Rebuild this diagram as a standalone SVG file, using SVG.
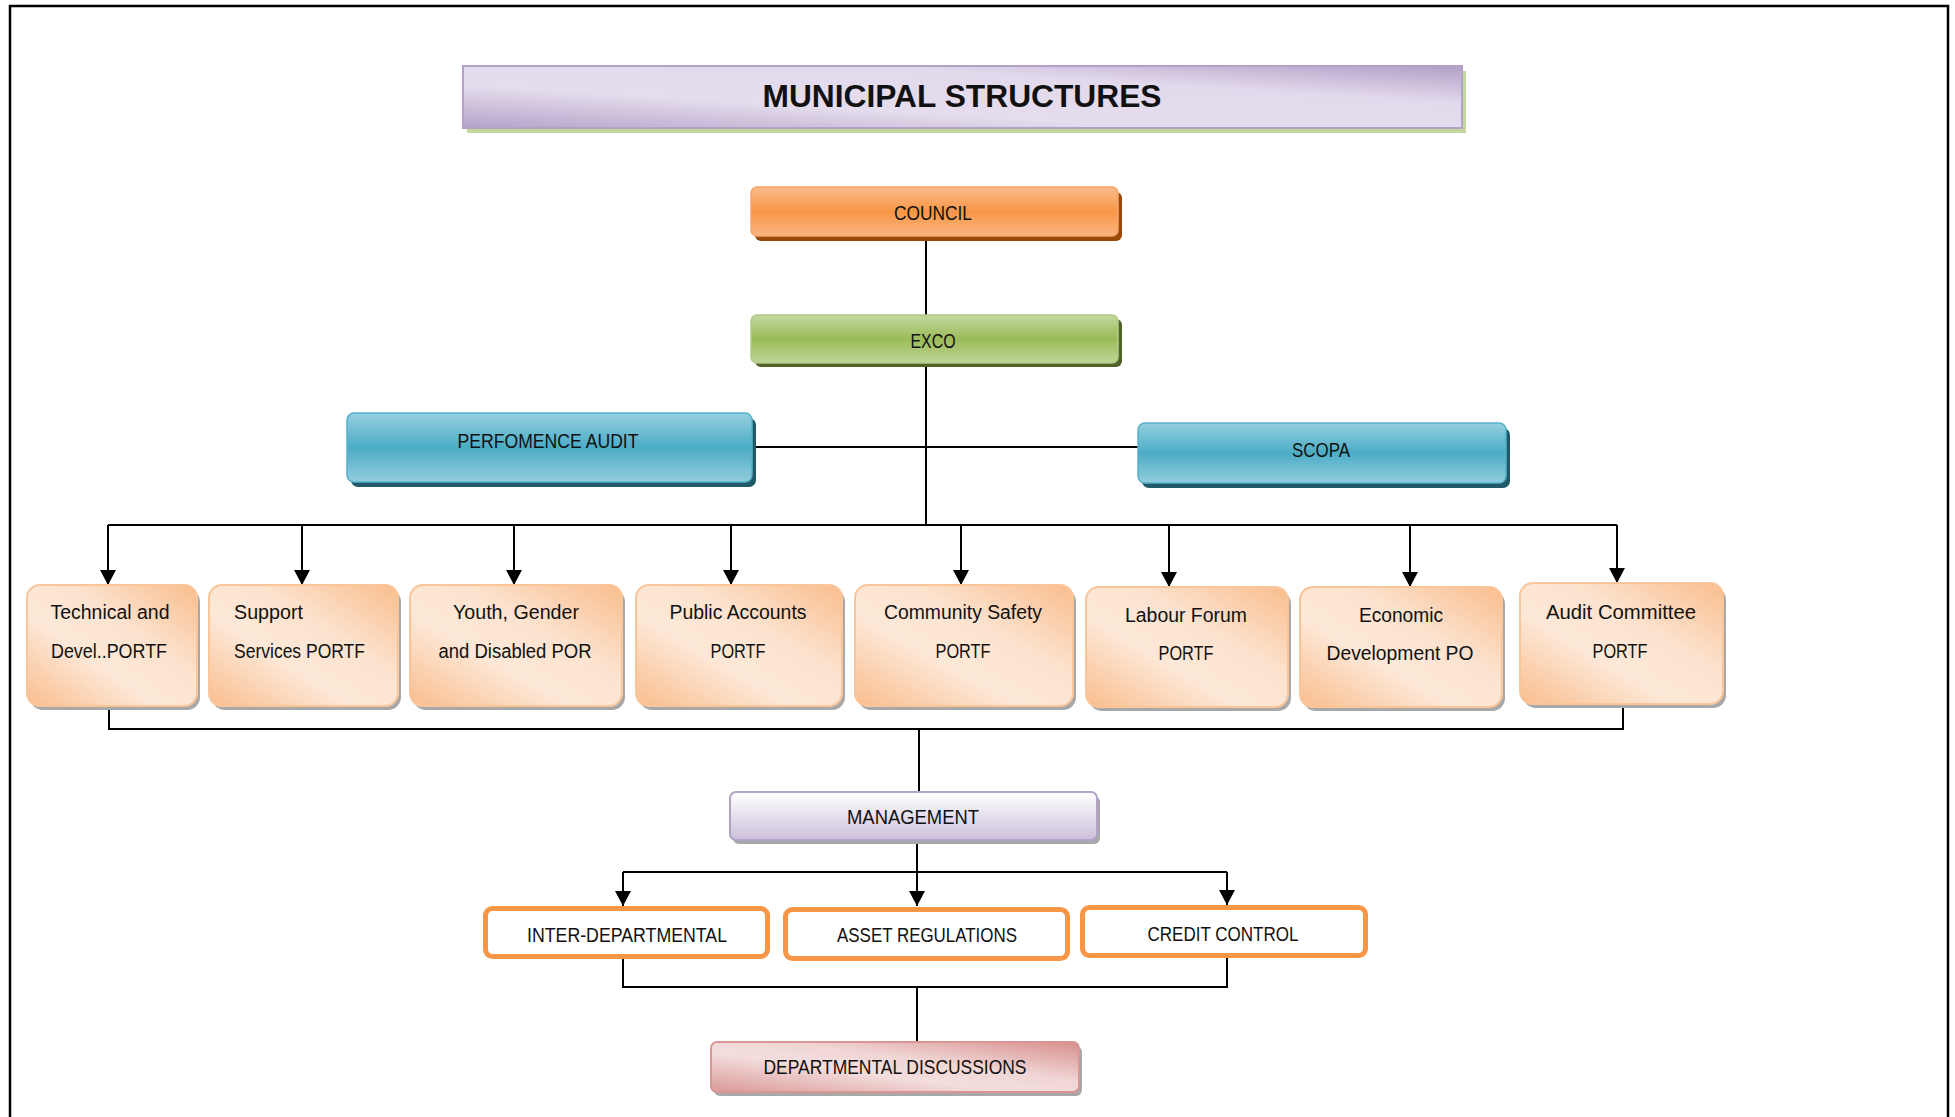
<svg xmlns="http://www.w3.org/2000/svg" width="1955" height="1117" viewBox="0 0 1955 1117">
<style>
.t{font-family:"Liberation Sans",Arial,sans-serif;font-size:20px;fill:#111;text-anchor:middle}
.u{font-family:"Liberation Sans",Arial,sans-serif;font-size:21px;fill:#111;text-anchor:middle}
.tl{font-family:"Liberation Sans",Arial,sans-serif;font-size:20px;fill:#111;text-anchor:start}
.ttl{font-family:"Liberation Sans",Arial,sans-serif;font-size:32px;font-weight:bold;fill:#111;text-anchor:middle}
.c{fill:none;stroke:#000;stroke-width:2}
.pf{fill:url(#gPeach);stroke:#fbc59a;stroke-width:2}
.psh{fill:#a8a8a8}
.ob{fill:#fff;stroke:#f79646;stroke-width:5}
</style>
<defs>
<linearGradient id="gTitle" x1="0" y1="1" x2="1" y2="0">
<stop offset="0" stop-color="#b4a2c9"/><stop offset="0.35" stop-color="#e5dded"/><stop offset="0.7" stop-color="#e2d9ec"/><stop offset="1" stop-color="#b09ec6"/>
</linearGradient>
<linearGradient id="gOrange" x1="0" y1="0" x2="0" y2="1">
<stop offset="0" stop-color="#fbbb8c"/><stop offset="0.5" stop-color="#f79646"/><stop offset="1" stop-color="#fab582"/>
</linearGradient>
<linearGradient id="gGreen" x1="0" y1="0" x2="0" y2="1">
<stop offset="0" stop-color="#c4d89e"/><stop offset="0.5" stop-color="#9bbb59"/><stop offset="1" stop-color="#c0d597"/>
</linearGradient>
<linearGradient id="gBlue" x1="0" y1="0" x2="0" y2="1">
<stop offset="0" stop-color="#95cfdf"/><stop offset="0.5" stop-color="#4bacc6"/><stop offset="1" stop-color="#93cddd"/>
</linearGradient>
<linearGradient id="gPeach" x1="0" y1="1" x2="1" y2="0">
<stop offset="0" stop-color="#f9bd8d"/><stop offset="0.38" stop-color="#fde8d7"/><stop offset="0.62" stop-color="#fce3cf"/><stop offset="1" stop-color="#f9bd8d"/>
</linearGradient>
<linearGradient id="gMgmt" x1="0" y1="0" x2="0" y2="1">
<stop offset="0" stop-color="#ffffff"/><stop offset="1" stop-color="#ccc0da"/>
</linearGradient>
<linearGradient id="gPink" x1="0" y1="1" x2="1" y2="0">
<stop offset="0" stop-color="#d99896"/><stop offset="0.4" stop-color="#f3dedd"/><stop offset="0.6" stop-color="#f0d6d5"/><stop offset="1" stop-color="#d78f8d"/>
</linearGradient>
<marker id="arr" markerUnits="userSpaceOnUse" markerWidth="16" markerHeight="16" refX="15" refY="8" orient="auto">
<path d="M0,0 L15,8 L0,16 z" fill="#000"/>
</marker>
</defs>

<rect x="10" y="6" width="1938" height="1130" fill="none" stroke="#000" stroke-width="2.5"/>

<g id="connectors">
<line class="c" x1="926" y1="236" x2="926" y2="315"/>
<line class="c" x1="926" y1="363" x2="926" y2="525"/>
<line class="c" x1="752" y1="447" x2="1138" y2="447"/>
<line class="c" x1="108" y1="525" x2="1617" y2="525"/>
<line class="c" x1="108" y1="525" x2="108" y2="585" marker-end="url(#arr)"/>
<line class="c" x1="302" y1="525" x2="302" y2="585" marker-end="url(#arr)"/>
<line class="c" x1="514" y1="525" x2="514" y2="585" marker-end="url(#arr)"/>
<line class="c" x1="731" y1="525" x2="731" y2="585" marker-end="url(#arr)"/>
<line class="c" x1="961" y1="525" x2="961" y2="585" marker-end="url(#arr)"/>
<line class="c" x1="1169" y1="525" x2="1169" y2="587" marker-end="url(#arr)"/>
<line class="c" x1="1410" y1="525" x2="1410" y2="587" marker-end="url(#arr)"/>
<line class="c" x1="1617" y1="525" x2="1617" y2="583" marker-end="url(#arr)"/>
<polyline class="c" points="109,706 109,729 1623,729 1623,704"/>
<line class="c" x1="919" y1="729" x2="919" y2="792"/>
<line class="c" x1="917" y1="843" x2="917" y2="906" marker-end="url(#arr)"/>
<line class="c" x1="623" y1="872" x2="1227" y2="872"/>
<line class="c" x1="623" y1="872" x2="623" y2="906" marker-end="url(#arr)"/>
<line class="c" x1="1227" y1="872" x2="1227" y2="905" marker-end="url(#arr)"/>
<polyline class="c" points="623,959 623,987 1227,987 1227,958"/>
<line class="c" x1="917" y1="987" x2="917" y2="1042"/>
</g>

<g id="title">
<rect x="467" y="71" width="999" height="62" fill="#c3d69b"/>
<rect x="463" y="66" width="999" height="62" fill="url(#gTitle)" stroke="#b3a2c7" stroke-width="2"/>
<text class="ttl" x="962" y="107" textLength="399" lengthAdjust="spacingAndGlyphs">MUNICIPAL STRUCTURES</text>
</g>

<g id="council">
<rect x="755" y="192" width="367" height="49" rx="6" fill="#984807"/>
<rect x="751" y="187" width="367" height="49" rx="6" fill="url(#gOrange)" stroke="#f9a468" stroke-width="1.5"/>
<text class="u" x="933" y="220" textLength="78" lengthAdjust="spacingAndGlyphs">COUNCIL</text>
</g>

<g id="exco">
<rect x="755" y="319" width="367" height="48" rx="6" fill="#4f6228"/>
<rect x="751" y="315" width="367" height="48" rx="6" fill="url(#gGreen)" stroke="#b3cc85" stroke-width="1.5"/>
<text class="u" x="933" y="348" textLength="45" lengthAdjust="spacingAndGlyphs">EXCO</text>
</g>

<g id="perf-audit">
<rect x="351" y="418" width="405" height="69" rx="7" fill="#215968"/>
<rect x="347" y="413" width="405" height="69" rx="7" fill="url(#gBlue)" stroke="#55b2ca" stroke-width="1.5"/>
<text class="u" x="548" y="448" textLength="181" lengthAdjust="spacingAndGlyphs">PERFOMENCE AUDIT</text>
</g>

<g id="scopa">
<rect x="1142" y="428" width="368" height="60" rx="7" fill="#215968"/>
<rect x="1138" y="423" width="368" height="60" rx="7" fill="url(#gBlue)" stroke="#55b2ca" stroke-width="1.5"/>
<text class="u" x="1321" y="457" textLength="58" lengthAdjust="spacingAndGlyphs">SCOPA</text>
</g>

<g id="technical">
<rect class="psh" x="30" y="589" width="170" height="121" rx="13"/>
<rect class="pf" x="27" y="585" width="170" height="121" rx="13"/>
<text class="t" x="110" y="619" textLength="119" lengthAdjust="spacingAndGlyphs">Technical and</text>
<text class="t" x="109" y="658" textLength="116" lengthAdjust="spacingAndGlyphs">Devel..PORTF</text>
</g>

<g id="support">
<rect class="psh" x="212" y="589" width="189" height="121" rx="13"/>
<rect class="pf" x="209" y="585" width="189" height="121" rx="13"/>
<text class="tl" x="234" y="619" textLength="69" lengthAdjust="spacingAndGlyphs">Support</text>
<text class="tl" x="234" y="658" textLength="131" lengthAdjust="spacingAndGlyphs">Services PORTF</text>
</g>

<g id="youth">
<rect class="psh" x="413" y="589" width="212" height="121" rx="13"/>
<rect class="pf" x="410" y="585" width="212" height="121" rx="13"/>
<text class="t" x="516" y="619" textLength="126" lengthAdjust="spacingAndGlyphs">Youth, Gender</text>
<text class="t" x="515" y="658" textLength="153" lengthAdjust="spacingAndGlyphs">and Disabled POR</text>
</g>

<g id="public-accounts">
<rect class="psh" x="639" y="589" width="206" height="121" rx="13"/>
<rect class="pf" x="636" y="585" width="206" height="121" rx="13"/>
<text class="t" x="738" y="619" textLength="137" lengthAdjust="spacingAndGlyphs">Public Accounts</text>
<text class="t" x="738" y="658" textLength="55" lengthAdjust="spacingAndGlyphs">PORTF</text>
</g>

<g id="community-safety">
<rect class="psh" x="858" y="589" width="218" height="121" rx="13"/>
<rect class="pf" x="855" y="585" width="218" height="121" rx="13"/>
<text class="t" x="963" y="619" textLength="158" lengthAdjust="spacingAndGlyphs">Community Safety</text>
<text class="t" x="963" y="658" textLength="55" lengthAdjust="spacingAndGlyphs">PORTF</text>
</g>

<g id="labour-forum">
<rect class="psh" x="1089" y="591" width="202" height="120" rx="13"/>
<rect class="pf" x="1086" y="587" width="202" height="120" rx="13"/>
<text class="t" x="1186" y="622" textLength="122" lengthAdjust="spacingAndGlyphs">Labour Forum</text>
<text class="t" x="1186" y="660" textLength="55" lengthAdjust="spacingAndGlyphs">PORTF</text>
</g>

<g id="economic">
<rect class="psh" x="1303" y="591" width="202" height="120" rx="13"/>
<rect class="pf" x="1300" y="587" width="202" height="120" rx="13"/>
<text class="t" x="1401" y="622" textLength="84" lengthAdjust="spacingAndGlyphs">Economic</text>
<text class="t" x="1400" y="660" textLength="147" lengthAdjust="spacingAndGlyphs">Development PO</text>
</g>

<g id="audit-committee">
<rect class="psh" x="1523" y="587" width="203" height="121" rx="13"/>
<rect class="pf" x="1520" y="583" width="203" height="121" rx="13"/>
<text class="t" x="1621" y="619" textLength="150" lengthAdjust="spacingAndGlyphs">Audit Committee</text>
<text class="t" x="1620" y="658" textLength="55" lengthAdjust="spacingAndGlyphs">PORTF</text>
</g>

<g id="management">
<rect x="733" y="796" width="367" height="48" rx="6" fill="#a8a8a8"/>
<rect x="730" y="792" width="367" height="48" rx="6" fill="url(#gMgmt)" stroke="#b3a2c7" stroke-width="2"/>
<text class="u" x="913" y="824" textLength="132" lengthAdjust="spacingAndGlyphs">MANAGEMENT</text>
</g>

<g id="inter-departmental">
<rect class="ob" x="485.5" y="908.5" width="282" height="48" rx="7"/>
<text class="u" x="627" y="942" textLength="200" lengthAdjust="spacingAndGlyphs">INTER-DEPARTMENTAL</text>
</g>

<g id="asset-regulations">
<rect class="ob" x="785.5" y="909.5" width="282" height="49" rx="7"/>
<text class="u" x="927" y="942" textLength="180" lengthAdjust="spacingAndGlyphs">ASSET REGULATIONS</text>
</g>

<g id="credit-control">
<rect class="ob" x="1082.5" y="907.5" width="283" height="48" rx="7"/>
<text class="u" x="1223" y="941" textLength="151" lengthAdjust="spacingAndGlyphs">CREDIT CONTROL</text>
</g>

<g id="departmental-discussions">
<rect x="714" y="1046" width="368" height="50" rx="6" fill="#a8a8a8"/>
<rect x="711" y="1042" width="368" height="50" rx="6" fill="url(#gPink)" stroke="#d99694" stroke-width="2"/>
<text class="u" x="895" y="1074" textLength="263" lengthAdjust="spacingAndGlyphs">DEPARTMENTAL DISCUSSIONS</text>
</g>
</svg>
